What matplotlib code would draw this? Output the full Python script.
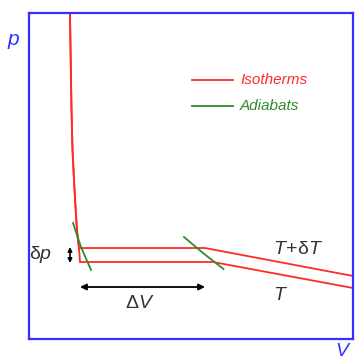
import matplotlib
matplotlib.use("Agg")
import matplotlib.pyplot as plt

plt.rcParams['font.family'] = ['Liberation Sans', 'DejaVu Sans']
plt.rcParams['mathtext.fontset'] = 'custom'
plt.rcParams['mathtext.rm'] = 'Liberation Sans'
plt.rcParams['mathtext.it'] = 'Liberation Sans:italic'
plt.rcParams['mathtext.bf'] = 'Liberation Sans:bold'

# ---- data (V, p in arbitrary units) ----
steep_V = [1.265, 1.287, 1.312, 1.343, 1.389, 1.441, 1.481, 1.512]
steep_p = [10.0, 8.558, 7.025, 5.798, 4.877, 3.957, 3.344, 3.037]

upper_V = steep_V + [1.543, 5.432, 10.0]
upper_p = steep_p + [2.791, 2.791, 1.933]

lower_V = steep_V + [1.543, 1.559, 1.574, 5.679, 10.0]
lower_p = steep_p + [2.791, 2.577, 2.362, 2.362, 1.564]

adiabat1_V = [1.358, 1.605, 1.914]
adiabat1_p = [3.558, 2.822, 2.117]
adiabat2_V = [4.784, 5.370, 6.003]
adiabat2_p = [3.129, 2.638, 2.147]

dV_range = [1.574, 5.432]
dV_level = 1.595
dp_V = 1.265
dp_range = [2.822, 2.331]

RED = '#ff2a2a'
GREEN = '#2e8b2e'
BLUE = '#3030ff'
TXT = '#333333'

fig = plt.figure(figsize=(3.55, 3.64), dpi=100)
ax = fig.add_axes([29/355, (364-339)/364, 324/355, 326/364])
ax.set_xlim(0, 10)
ax.set_ylim(0, 10)
ax.set_xticks([])
ax.set_yticks([])
for s in ax.spines.values():
    s.set_color(BLUE)
    s.set_linewidth(1.6)

lw = 1.3
ax.plot(upper_V, upper_p, color=RED, lw=lw, solid_joinstyle='miter')
ax.plot(lower_V, lower_p, color=RED, lw=lw, solid_joinstyle='miter')
ax.plot(adiabat1_V, adiabat1_p, color=GREEN, lw=lw)
ax.plot(adiabat2_V, adiabat2_p, color=GREEN, lw=lw)

# legend
ax.plot([5.03, 6.30], [7.945, 7.945], color=RED, lw=lw)
ax.plot([5.03, 6.30], [7.147, 7.147], color=GREEN, lw=lw)
ax.text(6.51, 7.945, 'Isotherms', color=RED, fontsize=11, style='italic', va='center', ha='left')
ax.text(6.51, 7.147, 'Adiabats', color=GREEN, fontsize=11, style='italic', va='center', ha='left')

# arrows
ax.annotate('', xy=(dV_range[0], dV_level), xytext=(dV_range[1], dV_level),
            arrowprops=dict(arrowstyle='<|-|>', color='black', lw=1.3,
                            mutation_scale=9, shrinkA=0, shrinkB=0))
ax.annotate('', xy=(dp_V, dp_range[0]), xytext=(dp_V, dp_range[1]),
            arrowprops=dict(arrowstyle='<|-|>', color='black', lw=1.2,
                            mutation_scale=6, shrinkA=0, shrinkB=0))

ax.text(3.43, 1.10, r'$\mathrm{\Delta}V$', color=TXT, fontsize=14, ha='center', va='center')
ax.text(0.37, 2.58, r'$\mathrm{\delta}p$', color=TXT, fontsize=14, ha='center', va='center')
ax.text(8.30, 2.76, r'$T\!+\!\mathrm{\delta}T$', color=TXT, fontsize=14, ha='center', va='center')
ax.text(7.75, 1.32, r'$T$', color=TXT, fontsize=14, ha='center', va='center')

ax.text(-0.46, 9.14, r'$p$', color=BLUE, fontsize=15, ha='center', va='center', clip_on=False)
ax.text(9.69, -0.12, r'$V$', color=BLUE, fontsize=14, ha='center', va='top', clip_on=False)

fig.savefig('out.png', dpi=100, facecolor='white')
